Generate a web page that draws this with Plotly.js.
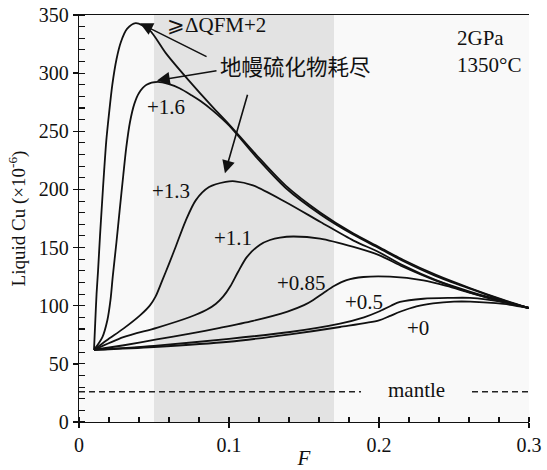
<!DOCTYPE html>
<html>
<head>
<meta charset="utf-8">
<script src="https://cdn.plot.ly/plotly-3.0.1.min.js"></script>
<style>html,body{margin:0;padding:0;background:#fff;}#chart{width:547px;height:470px;}</style>
</head>
<body>
<div id="chart"></div>
<script>
// ---- data ----
const seriesNames = ["⩾ΔQFM+2", "+1.6", "+1.3", "+1.1", "+0.85", "+0.5", "+0"];

const xQFM2 = [0.0100,0.0108,0.0117,0.0127,0.0140,0.0153,0.0167,0.0182,0.0200,0.0222,0.0250,0.0280,0.0320,0.0378,0.0470,0.0580,0.0730,0.0890,0.1000,0.1180,0.1380,0.1610,0.1830,0.2000,0.2160,0.2380,0.2610,0.2830,0.3000];
const yQFM2 = [62,85,110,130,160,187,215,242,265,290,312,327,338,343,337,317,294,271,256,230,203,180,162,150.5,139.5,126.5,115,105,98];

const xP16 = [0.0100,0.0156,0.0189,0.0210,0.0225,0.0250,0.0271,0.0295,0.0315,0.0340,0.0370,0.0400,0.0450,0.0525,0.0600,0.0670,0.0750,0.0810,0.0890,0.1000,0.1180,0.1380,0.1610,0.1830,0.2000,0.2160,0.2380,0.2610,0.2830,0.3000];
const yP16 = [62,73,87.5,105,125,155,182,212,236,258,274,283,290,292.5,290.5,287,281,276,268,255,228,201,178.5,161,149.5,138.5,125.5,114.5,104.5,98];

const xP13 = [0.0100,0.0185,0.0296,0.0407,0.0473,0.0511,0.0556,0.0600,0.0644,0.0711,0.0778,0.0867,0.0978,0.1040,0.1160,0.1380,0.1610,0.1830,0.2000,0.2160,0.2380,0.2610,0.2830,0.3000];
const yP13 = [62,70.3,80.3,91.7,100.3,108,122,136,150.5,173,190.6,202,206.5,207,203.5,189,172,156,146,134.7,122,112,104,98];

const xP11 = [0.0100,0.0296,0.0518,0.0740,0.0851,0.0911,0.0962,0.1010,0.1060,0.1120,0.1207,0.1273,0.1340,0.1430,0.1607,0.1830,0.2000,0.2160,0.2380,0.2610,0.2830,0.3000];
const yP11 = [62,73,81,90.3,96.5,101.5,108,117,129,142,152.5,156.5,158.6,159.5,157.7,150.5,143.5,133.5,121.5,111.3,103.5,98];

const xP085 = [0.0100,0.0300,0.0518,0.0740,0.0940,0.1160,0.1390,0.1500,0.1562,0.1630,0.1700,0.1784,0.1896,0.2073,0.2296,0.2450,0.2607,0.2830,0.3000];
const yP085 = [62,66,71,76,81,87,95,100.5,105,111,117,122,124.7,125,121.8,117,111,103,98];

const xP05 = [0.0100,0.0500,0.1000,0.1407,0.1740,0.1900,0.2000,0.2080,0.2140,0.2296,0.2470,0.2607,0.2830,0.3000];
const yP05 = [62,65.5,71.5,77.4,84.6,90,95,100,103.2,106,106.7,106.7,103,98];

const xP0 = [0.0100,0.0500,0.1000,0.1407,0.1740,0.2000,0.2070,0.2140,0.2250,0.2360,0.2500,0.2607,0.2830,0.3000];
const yP0 = [62,64.5,69,75.4,81.7,87.4,91,94.8,99.5,102,103.5,103.5,101.5,98];

const mantleX = [0, 0.188, null, 0.262, 0.3];
const mantleY = [26, 26, null, 26, 26];

const shadeRange = [0.05, 0.17];
const xTicks = [0, 0.1, 0.2, 0.3];
const yTicks = [0, 50, 100, 150, 200, 250, 300, 350];

// ---- chart ----
const serif = "'Liberation Serif', 'DejaVu Serif', serif";
const cjk = "'Noto Sans CJK SC', sans-serif";
const curveXs = [xQFM2, xP16, xP13, xP11, xP085, xP05, xP0];
const curveYs = [yQFM2, yP16, yP13, yP11, yP085, yP05, yP0];

const traces = curveXs.map((xs, i) => ({
  x: xs, y: curveYs[i], name: seriesNames[i], type: "scatter", mode: "lines",
  line: {color: "#111", width: 1.8, shape: "spline", smoothing: 0.8},
  hoverinfo: "skip", showlegend: false
}));
traces.push({x: mantleX, y: mantleY, type: "scatter", mode: "lines",
  line: {color: "#222", width: 1.3, dash: "6px,4px"}, showlegend: false, hoverinfo: "skip"});

const lbl = (text, x, y, anchor, font) => ({text, x, y, xref: "x", yref: "y",
  showarrow: false, xanchor: anchor || "center", yanchor: "middle",
  font: font || {family: serif, size: 21, color: "#111"}});

const arrow = (x, y, ax, ay) => ({text: "", x, y, xref: "x", yref: "y", ax, ay,
  axref: "pixel", ayref: "pixel", showarrow: true, arrowhead: 2, arrowsize: 1.6,
  arrowwidth: 1.6, arrowcolor: "#111"});

const layout = {
  width: 547, height: 470,
  margin: {l: 79, r: 18, t: 15, b: 48},
  paper_bgcolor: "#ffffff", plot_bgcolor: "#f9f9f9",
  font: {family: serif, size: 20, color: "#111"},
  xaxis: {range: [0, 0.3], tickvals: xTicks, ticktext: xTicks.map(String),
    showline: true, linecolor: "#111", linewidth: 1.3, mirror: true,
    ticks: "outside", ticklen: 5, tickwidth: 1.3, tickcolor: "#111",
    minor: {dtick: 0.02, ticks: "inside", ticklen: 5, tickwidth: 1.1, tickcolor: "#111", showgrid: false},
    showgrid: false, zeroline: false, tickfont: {family: serif, size: 20},
    title: {text: "<i>F</i>", font: {family: serif, size: 21}, standoff: 6}},
  xaxis2: {range: [0, 0.3], overlaying: "x", anchor: "y", side: "bottom", tickvals: xTicks,
    ticks: "inside", ticklen: 6, tickwidth: 1.3, tickcolor: "#111",
    showticklabels: false, showline: false, showgrid: false, zeroline: false},
  yaxis: {range: [0, 350], tickvals: yTicks, ticktext: yTicks.map(String),
    showline: true, linecolor: "#111", linewidth: 1.3,
    ticks: "outside", ticklen: 5, tickwidth: 1.3, tickcolor: "#111",
    minor: {dtick: 10, ticks: "inside", ticklen: 6, tickwidth: 1.1, tickcolor: "#111", showgrid: false},
    showgrid: false, zeroline: false, tickfont: {family: serif, size: 20},
    title: {text: "Liquid Cu (×10<sup>-6</sup>)", font: {family: serif, size: 19}, standoff: 8}},
  yaxis2: {range: [0, 350], overlaying: "y", anchor: "x", side: "left", tickvals: yTicks,
    ticks: "inside", ticklen: 6, tickwidth: 1.3, tickcolor: "#111",
    showticklabels: false, showline: false, showgrid: false, zeroline: false},
  yaxis3: {range: [0, 350], overlaying: "y", anchor: "x", side: "right", tickvals: yTicks,
    showline: true, linecolor: "#111", linewidth: 1.3,
    ticks: "outside", ticklen: 6, tickwidth: 1.3, tickcolor: "#111",
    minor: {dtick: 10, ticks: "outside", ticklen: 6, tickwidth: 1.1, tickcolor: "#111", showgrid: false},
    showticklabels: false, showgrid: false, zeroline: false},
  yaxis4: {range: [0, 350], overlaying: "y", anchor: "x", side: "right", tickvals: yTicks,
    ticks: "inside", ticklen: 5, tickwidth: 1.3, tickcolor: "#111",
    showticklabels: false, showline: false, showgrid: false, zeroline: false},
  shapes: [{type: "rect", xref: "x", yref: "paper", x0: shadeRange[0], x1: shadeRange[1],
    y0: 0, y1: 1, fillcolor: "#e3e3e3", line: {width: 0}, layer: "below"}],
  annotations: [
    lbl(seriesNames[0], 0.0573, 341, "left"),
    lbl("地幔硫化物耗尽", 0.0927, 306.7, "left", {family: cjk, size: 21.5, color: "#111"}),
    lbl("2GPa", 0.2507, 330, "left"),
    lbl("1350°C", 0.2507, 306.7, "left"),
    lbl(seriesNames[1], 0.058, 270.6),
    lbl(seriesNames[2], 0.0613, 198.4),
    lbl(seriesNames[3], 0.1027, 158.6),
    lbl(seriesNames[4], 0.148, 119.3),
    lbl(seriesNames[5], 0.19, 102.9),
    lbl(seriesNames[6], 0.226, 80.6),
    lbl("mantle", 0.2253, 27.3),
    arrow(0.0407, 342.8, 68, 34),
    arrow(0.052, 293.7, 61, -10),
    arrow(0.0973, 213.9, 23, -80)
  ]
};

Plotly.newPlot("chart", traces, layout, {staticPlot: true, displayModeBar: false});
</script>
</body>
</html>
